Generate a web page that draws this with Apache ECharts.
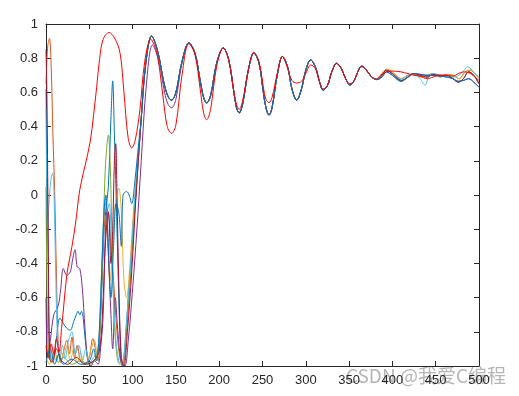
<!DOCTYPE html>
<html><head><meta charset="utf-8">
<script src="https://cdn.jsdelivr.net/npm/echarts/dist/echarts.min.js"></script>
<style>html,body{margin:0;padding:0;background:#fff}#c{width:519px;height:396px}</style>
</head><body><div id="c"></div>
<script>
// ---- data (x, y) ----
const blueEarly = [[0,0.62],[1.5,0.1],[3,-0.6],[5,-0.95],[8,-0.97],[12,-0.84],[16,-0.72],[20,-0.75],[24,-0.78],[28,-0.79],[32,-0.74],[35,-0.7],[37,-0.68],[39,-0.7],[41,-0.68],[43,-0.72],[46,-0.88],[50,-0.98],[55,-0.97],[60,-0.93],[64,-0.6],[67,-0.2],[70,-0.05],[72,0.05],[75,0.45],[77,0.667],[79,0.35],[81,0.0],[83,-0.4],[86,-0.9],[88,-1],[91,-0.92],[95,-0.6],[100,-0.25],[105,0.08]];
const orangeEarly = [[0,0.65],[2,0.87],[4,0.915],[6,0.75],[8,0.35],[10,0.02],[12,-0.45],[14,-0.85],[17,-0.98],[21,-0.9],[24,-0.85],[27,-0.93],[30,-0.83],[33,-0.95],[36,-0.88],[40,-0.97],[45,-0.99],[50,-0.95],[54,-0.84],[57,-0.9],[60,-0.97],[63,-0.7],[66,-0.3],[69,-0.08],[72,-0.1],[75,-0.3],[78,-0.5],[82,-0.8],[86,-0.97],[89,-0.99],[93,-0.8],[98,-0.45],[104,0.02]];
const yellowEarly = [[0,-0.95],[4,-0.99],[8,-0.93],[12,-0.97],[16,-0.9],[20,-0.95],[24,-0.88],[28,-0.97],[32,-0.9],[36,-0.98],[40,-0.92],[44,-0.99],[48,-0.97],[52,-0.9],[56,-0.85],[59,-0.95],[62,-0.75],[65,-0.35],[68,-0.12],[71,-0.25],[74,-0.5],[77,-0.3],[80,-0.05],[84,0.04],[87,-0.1],[90,-0.5],[93,-0.6],[97,-0.4],[101,-0.1],[105,0.12]];
const purpleEarly = [[0,-0.6],[2,-0.95],[5,-0.85],[9,-0.7],[14,-0.65],[17,-0.55],[20,-0.43],[24,-0.47],[28,-0.45],[31,-0.37],[33.5,-0.32],[36,-0.42],[39,-0.43],[42,-0.55],[45,-0.78],[48,-0.95],[52,-1],[56,-0.97],[60,-0.99],[63,-0.9],[66,-0.7],[68,-0.3],[70,-0.1],[72,-0.35],[75,-0.7],[77,-0.9],[80,-0.6],[83,-0.8],[87,-0.98],[91,-1],[95,-0.85],[100,-0.55],[105,-0.2]];
const purpleHead = [[110,0.2],[116,0.65],[123,0.877],[130,0.79],[137,0.6],[141,0.53],[145,0.51],[150,0.56],[157,0.77]];
const greenEarly = [[0,0.05],[1,-0.5],[3,-0.95],[6,-0.97],[10,-0.9],[14,-0.98],[20,-0.95],[30,-0.99],[40,-0.97],[50,-0.99],[58,-0.95],[62,-0.8],[65,-0.4],[67,-0.05],[69,0.2],[72,0.35],[74,0.2],[76,-0.2],[78,-0.6],[81,-0.9],[85,-0.99],[89,-0.97],[93,-0.75],[98,-0.4],[104,0.05]];
const cyanEarly = [[0,0.5],[2,-0.2],[4,0.0],[6,0.1],[7.7,0.128],[9,0.05],[11,-0.4],[13,-0.8],[16,-0.95],[19,-0.88],[22,-0.96],[26,-0.85],[30,-0.8],[34,-0.93],[38,-0.88],[42,-0.97],[46,-0.9],[50,-0.98],[55,-0.95],[60,-0.9],[63,-0.6],[66,-0.2],[68,-0.02],[70,-0.1],[73,-0.05],[76,-0.4],[80,-0.8],[84,-0.97],[88,-0.99],[92,-0.8],[97,-0.45],[103,0.02]];
const darkRedEarly = [[0,0.85],[1,0.6],[2,0.1],[3,-0.5],[4,-0.95],[7,-0.98],[12,-0.9],[18,-0.97],[25,-0.99],[35,-0.95],[45,-0.99],[55,-0.97],[62,-0.9],[66,-0.6],[69,-0.25],[72,-0.1],[75,-0.4],[77,-0.2],[79,0.2],[80.5,0.3],[82,0.0],[84,-0.5],[87,-0.95],[90,-1],[94,-0.8],[99,-0.45],[104,0.0]];
const blue2Early = [[0,-0.98],[5,-0.9],[10,-0.99],[15,-0.93],[20,-0.99],[30,-0.96],[40,-0.99],[50,-0.97],[55,-0.9],[58,-0.97],[61,-0.85],[64,-0.5],[67,-0.1],[69,0.0],[72,-0.3],[75,-0.6],[78,-0.3],[81,-0.05],[84,-0.1],[87,-0.3],[89,0.0],[93,0.02],[96,0.0],[99,-0.05],[103,0.1],[106,0.25]];
const redMain = [[0,-0.88],[3,-0.95],[6,-0.87],[9,-0.93],[12,-0.84],[15,-0.92],[18,-0.78],[21,-0.62],[24,-0.47],[27,-0.38],[30,-0.3],[34,-0.17],[39,0.03],[45,0.17],[51,0.31],[55,0.47],[58.5,0.63],[62,0.8],[66,0.91],[72.7,0.95],[79,0.92],[85.5,0.83],[90,0.6],[94.7,0.34],[99,0.275],[103,0.32],[108.5,0.5],[114,0.78],[121,0.91],[128,0.83],[135,0.58],[140,0.4],[145,0.36],[150,0.41],[157,0.7],[165,0.885],[172,0.82],[178,0.62],[182,0.48],[185.5,0.44],[190,0.5],[197,0.75],[204.7,0.86],[211,0.79],[217,0.6],[220,0.53],[223,0.5],[227,0.55],[234,0.74],[240,0.835],[246,0.78],[251,0.63],[254,0.56],[257.5,0.54],[261,0.57],[267,0.71],[273,0.81],[279,0.74],[284,0.67],[289.5,0.655],[295,0.665],[300,0.71],[305.6,0.76],[311,0.74],[316,0.66],[320,0.62],[325,0.64],[330,0.72],[335.6,0.77],[341,0.74],[346,0.68],[351,0.65],[356,0.67],[360,0.72],[364.5,0.75],[370,0.73],[376,0.69],[382,0.68]];
const tailP1 = [[110,0.45],[115,0.76],[122,0.93],[129,0.84],[136,0.66],[141,0.575],[145,0.555],[150,0.6],[157,0.78]];
const tailP2 = [[165,0.89],[172,0.83],[178,0.67],[182,0.57],[185.5,0.538],[190,0.58],[197,0.77],[204.7,0.86],[211,0.79],[217,0.6],[220,0.51],[223,0.48],[227,0.53],[234,0.74],[240,0.83],[246,0.77],[251,0.6],[254,0.51],[257.5,0.468],[261,0.51],[267,0.7],[273,0.81],[279,0.75],[284,0.62],[289.5,0.555],[295,0.62],[300,0.73],[305.6,0.79],[311,0.75],[316,0.66],[320,0.614],[325,0.64],[330,0.72],[335.6,0.77],[341,0.74],[346,0.68],[351,0.643],[356,0.67],[360,0.72],[364.5,0.754],[370,0.73],[376,0.69],[382,0.675]];
const endA = [[388,0.7],[393,0.73],[400,0.71],[410.7,0.67],[418,0.69],[424,0.71],[432,0.7],[440,0.69],[447,0.705],[455,0.7],[463,0.7],[470,0.68],[476,0.66],[482,0.68],[488,0.72],[494,0.7],[500,0.65]];
const endB = [[388,0.71],[393,0.735],[400,0.72],[410,0.68],[418,0.7],[425,0.705],[433,0.69],[440,0.7],[447,0.71],[455,0.69],[463,0.705],[470,0.7],[477,0.68],[484,0.72],[490,0.73],[495,0.71],[500,0.69]];
const endCyan = [[388,0.7],[393,0.73],[400,0.71],[410,0.68],[418,0.7],[425,0.71],[432,0.68],[437.6,0.643],[442,0.69],[447,0.71],[455,0.7],[463,0.69],[470,0.69],[477,0.7],[483,0.73],[487,0.75],[492,0.73],[500,0.68]];
const endRed = [[386,0.7],[393,0.72],[400,0.725],[410,0.72],[418,0.71],[425,0.7],[432,0.695],[440,0.68],[447,0.69],[455,0.7],[463,0.7],[470,0.695],[476,0.71],[483,0.72],[490,0.71],[500,0.67]];
const endPurple = [[388,0.69],[393,0.72],[400,0.7],[410,0.665],[418,0.69],[425,0.71],[433,0.705],[440,0.7],[447,0.7],[455,0.695],[463,0.69],[470,0.68],[476,0.665],[482,0.67],[488,0.68],[494,0.66],[500,0.63]];

const xTicks = {min: 0, max: 500, interval: 50};
const yTicks = {min: -1, max: 1, interval: 0.2};
const watermark = 'CSDN @我爱C编程';

const seriesDefs = [
  {color:'#0072BD', data: blueEarly.concat(tailP1, tailP2, endA)},
  {color:'#D95319', data: orangeEarly.concat(tailP1, tailP2, endB)},
  {color:'#EDB120', data: yellowEarly.concat(tailP1, tailP2, endB)},
  {color:'#7E2F8E', data: purpleEarly.concat(purpleHead, tailP2, endPurple)},
  {color:'#77AC30', data: greenEarly.concat(tailP1, tailP2, endA)},
  {color:'#4DBEEE', data: cyanEarly.concat(tailP1, tailP2, endCyan)},
  {color:'#A2142F', data: darkRedEarly.concat(tailP1, tailP2, endA)},
  {color:'#0072BD', data: blue2Early.concat(tailP1, tailP2, endPurple)},
  {color:'#FF0000', data: redMain.concat(endRed)}
];

const chart = echarts.init(document.getElementById('c'), null, {renderer:'canvas'});
const axisCol = '#262626';
const fmt = v => String(+(+v).toFixed(1));
const base = (pos, t, show) => ({
  type:'value', position: pos, min:t.min, max:t.max, interval:t.interval,
  axisLine:{show:true, onZero:false, lineStyle:{color:axisCol, width:1}},
  axisTick:{show:true, inside:true, length:5, lineStyle:{color:axisCol}},
  axisLabel:{show:show, color:axisCol, fontFamily:'Liberation Sans, Arial', fontSize:13, margin:8, formatter: fmt},
  splitLine:{show:false}
});
chart.setOption({
  animation:false,
  backgroundColor:'#fff',
  grid:{left:46, right:40, top:24, bottom:30, containLabel:false},
  xAxis:[base('bottom', xTicks, true), base('top', xTicks, false)],
  yAxis:[base('left', yTicks, true), base('right', yTicks, false)],
  series: seriesDefs.map(s => ({
    type:'line', data:s.data, showSymbol:false, smooth:0.35, clip:true,
    lineStyle:{color:s.color, width:1}, itemStyle:{color:s.color}
  })),
  graphic:[{
    type:'text', right:13, top:366,
    style:{text:watermark, fill:'rgba(120,120,120,0.55)', font:'19px "Noto Sans CJK SC", sans-serif'}
  }]
});
</script></body></html>
